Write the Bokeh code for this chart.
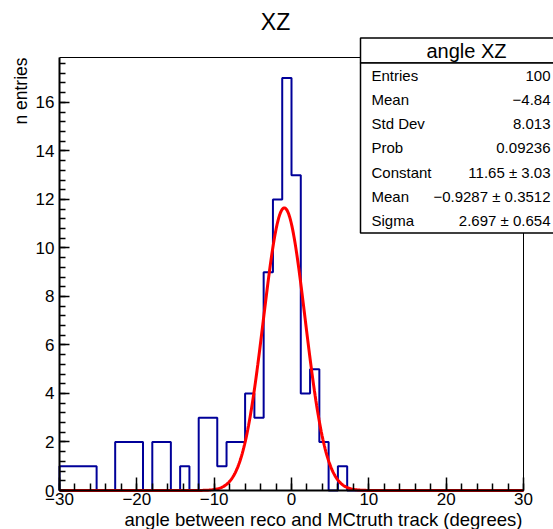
import numpy as np
from bokeh.plotting import figure
from bokeh.models import Range1d, SingleIntervalTicker, Label
from bokeh.embed import file_html
from bokeh.resources import INLINE

# ---------------- data ----------------
x_min, x_max, n_bins = -30.0, 30.0, 50
counts = [1, 1, 1, 1, 0, 0, 2, 2, 2, 0, 2, 2, 0, 1, 0, 3, 3, 1, 2, 2,
          4, 3, 9, 12, 17, 13, 4, 5, 2, 0, 1, 0, 0, 0, 0, 0, 0, 0, 0, 0,
          0, 0, 0, 0, 0, 0, 0, 0, 0, 0]
fit_constant = 11.65
fit_mean = -0.9287
fit_sigma = 2.697

stat_labels = ["Entries", "Mean", "Std Dev", "Prob", "Constant", "Mean", "Sigma"]
stat_values = ["100", "\u22124.84", "8.013", "0.09236", "11.65 \u00b1 3.03",
               "\u22120.9287 \u00b1 0.3512", "2.697 \u00b1 0.654"]
x_tick_overrides = {-30: "\u221230", -20: "\u221220", -10: "\u221210"}

y_max = max(counts) * 1.05

# ---------------- layout (pixel geometry of the ROOT frame) ----------------
W, H = 553, 529
FL, FR, FT, FB = 59, 523, 57, 490
FONT = "Liberation Sans"
sx = (FR - FL) / (x_max - x_min)
sy = (FB - FT) / y_max


def dx(px):
    return x_min + (px - FL) / sx


def dy(py):
    return (FB - py) / sy


p = figure(width=W, height=H, output_backend="svg", toolbar_location=None,
           x_range=Range1d(dx(0), dx(W)), y_range=Range1d(dy(H), dy(0)),
           min_border=0, title=None)
p.background_fill_color = "white"
p.border_fill_color = "white"
p.grid.visible = False
p.outline_line_color = None

# histogram outline
edges = np.linspace(x_min, x_max, n_bins + 1)
hx, hy = [edges[0]], [0.0]
for i, c in enumerate(counts):
    hx += [edges[i], edges[i + 1]]
    hy += [c, c]
hx.append(edges[-1])
hy.append(0.0)
p.line(hx, hy, line_color="#000099", line_width=2)

# gaussian fit
fx = np.linspace(x_min, x_max, 600)
fy = fit_constant * np.exp(-0.5 * ((fx - fit_mean) / fit_sigma) ** 2)
p.line(fx, fy, line_color="#ff0000", line_width=3)

# frame (top and right edges)
p.line([x_min, x_max, x_max], [y_max, y_max, 0], line_color="black", line_width=1)

# axes drawn at the frame edges
xa = p.xaxis[0]
xa.fixed_location = 0
xa.bounds = (x_min, x_max)
xa.ticker = SingleIntervalTicker(interval=10, num_minor_ticks=5)
xa.major_tick_in = 13
xa.major_tick_out = 0
xa.minor_tick_in = 7
xa.minor_tick_out = 0
xa.major_label_standoff = 2
xa.major_label_overrides = x_tick_overrides
ya = p.yaxis[0]
ya.fixed_location = x_min
ya.bounds = (0, y_max)
ya.ticker = SingleIntervalTicker(interval=2, num_minor_ticks=5)
ya.major_tick_in = 10
ya.major_tick_out = 0
ya.minor_tick_in = 6
ya.minor_tick_out = 0
ya.major_label_standoff = 5
for ax in (xa, ya):
    ax.axis_line_width = 2
    ax.axis_line_color = "black"
    ax.major_tick_line_color = "black"
    ax.minor_tick_line_color = "black"
    ax.major_tick_line_width = 1.5
    ax.minor_tick_line_width = 1.5
    ax.major_label_text_font = FONT
    ax.major_label_text_font_size = "17px"
    ax.major_label_text_color = "black"

# titles
p.add_layout(Label(x=dx(275), y=dy(21), text="XZ", text_align="center",
                   text_baseline="middle", text_font=FONT, text_font_size="23px",
                   text_color="black"))
p.add_layout(Label(x=dx(522), y=dy(519),
                   text="angle between reco and MCtruth track (degrees)",
                   text_align="right", text_baseline="middle", text_font=FONT,
                   text_font_size="18.5px", text_color="black"))
p.add_layout(Label(x=dx(20), y=dy(57), text="n entries", angle=np.pi / 2,
                   text_align="right", text_baseline="middle", text_font=FONT,
                   text_font_size="17.5px", text_color="black"))

# stats box
BL, BR, BT, BS, BB = 360, 572, 37.5, 62.5, 232.5
p.quad(left=[dx(BL)], right=[dx(BR)], top=[dy(BT)], bottom=[dy(BS)],
       fill_color="white", line_color="black", line_width=1.5)
p.quad(left=[dx(BL)], right=[dx(BR)], top=[dy(BS)], bottom=[dy(BB)],
       fill_color="white", line_color="black", line_width=1.5)
p.add_layout(Label(x=dx((BL + BR) / 2), y=dy(50), text="angle XZ",
                   text_align="center", text_baseline="middle", text_font=FONT,
                   text_font_size="20px", text_color="black"))
row_y = [75, 99, 123, 147, 171.5, 196, 220]
for lab, val, ry in zip(stat_labels, stat_values, row_y):
    p.add_layout(Label(x=dx(371), y=dy(ry), text=lab, text_align="left",
                       text_baseline="middle", text_font=FONT,
                       text_font_size="15px", text_color="black"))
    p.add_layout(Label(x=dx(550), y=dy(ry), text=val, text_align="right",
                       text_baseline="middle", text_font=FONT,
                       text_font_size="15px", text_color="black"))

open("out.html", "w").write(file_html(p, INLINE))
